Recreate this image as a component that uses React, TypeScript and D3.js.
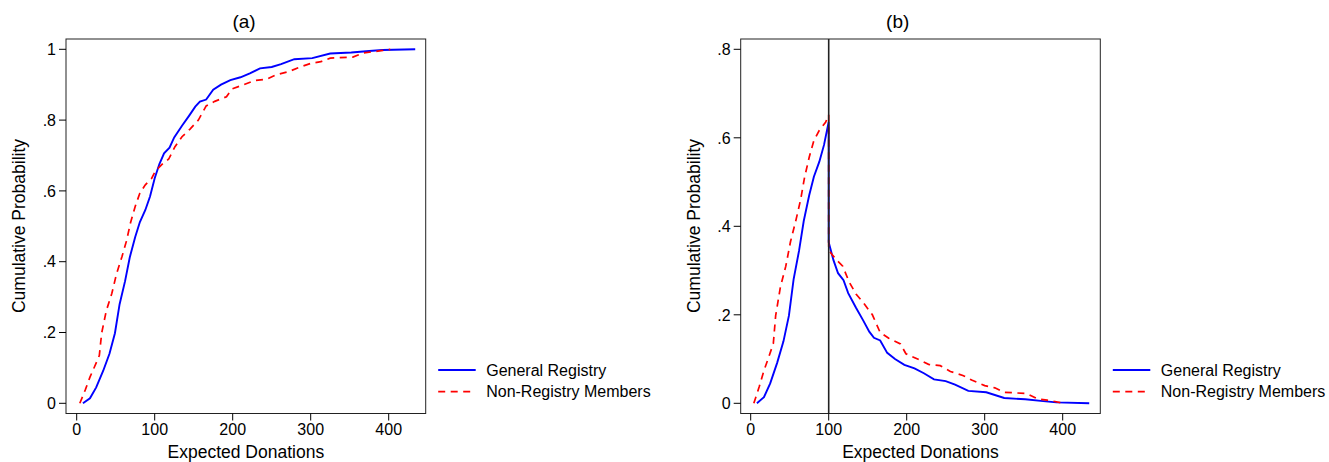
import React from 'react'
import * as d3 from 'd3'

// cumulative distribution of expected donations
const registryX = [8, 17, 25, 34, 42, 49, 55, 62, 68, 75, 81, 88, 94, 100, 106, 112, 119, 125, 135, 144, 152, 158, 166, 175, 185, 197, 210, 222, 235, 250, 262, 279, 302, 325, 352, 375, 392, 434]
const registryP = [0, 0.014, 0.045, 0.092, 0.14, 0.198, 0.28, 0.345, 0.412, 0.47, 0.512, 0.546, 0.584, 0.636, 0.676, 0.706, 0.722, 0.751, 0.784, 0.812, 0.838, 0.852, 0.858, 0.886, 0.9, 0.913, 0.921, 0.932, 0.946, 0.95, 0.958, 0.972, 0.975, 0.988, 0.991, 0.995, 0.998, 1.0]

const nonRegistryX = [4, 11, 17, 23, 29, 32, 38, 45, 51, 58, 64, 69, 75, 81, 88, 96, 100, 103, 110, 118, 126, 135, 145, 156, 166, 177, 192, 199, 214, 228, 243, 256, 272, 284, 300, 313, 325, 354, 368, 380, 390, 402]
const nonRegistryP = [0, 0.038, 0.074, 0.104, 0.135, 0.198, 0.262, 0.31, 0.365, 0.414, 0.46, 0.51, 0.556, 0.594, 0.617, 0.635, 0.652, 0.661, 0.676, 0.69, 0.725, 0.753, 0.774, 0.8, 0.84, 0.853, 0.866, 0.888, 0.9, 0.912, 0.915, 0.928, 0.937, 0.948, 0.96, 0.965, 0.975, 0.978, 0.99, 0.993, 0.996, 1.0]

const foldAt = 100
const xTicks = [0, 100, 200, 300, 400]
const yTicksA = [0, 0.2, 0.4, 0.6, 0.8, 1]
const yTicksB = [0, 0.2, 0.4, 0.6, 0.8]
const seriesNames = ['General Registry', 'Non-Registry Members']

const FONT = '"Liberation Sans", Arial, Helvetica, sans-serif'

type Pt = { x: number; y: number }

const cdf = (xs: number[], ps: number[]): Pt[] => xs.map((x, i) => ({ x, y: ps[i] }))

// folded cdf: F below the cut, 1 - F above it
const folded = (pts: Pt[]): Pt[] =>
  pts.flatMap(p => {
    if (p.x < foldAt) return [p]
    if (p.x === foldAt) return [p, { x: p.x, y: 1 - p.y }]
    return [{ x: p.x, y: 1 - p.y }]
  })

const fmtY = (d: number) => (d === 0 ? '0' : d === 1 ? '1' : d3.format('.1f')(d).replace(/^0/, ''))

function Panel(props: {
  title: string
  titleX: number
  left: number
  right: number
  x0: number
  x400: number
  yMax: number
  yTicks: number[]
  series: Pt[][]
  cutLine?: boolean
  labelX: number
}) {
  const { left, right, x0, x400, yMax, yTicks, series } = props
  const top = 39
  const bottom = 413.5
  const x = d3.scaleLinear().domain([0, 400]).range([x0, x400])
  const y = d3.scaleLinear().domain([0, yMax]).range([403.3, 49.3])
  const line = d3
    .line<Pt>()
    .x(d => x(d.x))
    .y(d => y(d.y))
  const colors = ['#0000ff', '#ff0000']
  const dashes = [undefined, '7,5.5']
  const midX = (left + right) / 2

  return (
    <g fontFamily={FONT} fill="#000">
      <text x={props.titleX} y={28} fontSize={19} textAnchor="middle">
        {props.title}
      </text>
      <rect x={left} y={top} width={right - left} height={bottom - top} fill="none" stroke="#222" strokeWidth={1} />
      {series.map((s, i) => (
        <path key={i} d={line(s) || ''} fill="none" stroke={colors[i]} strokeWidth={i === 0 ? 1.9 : 1.7} strokeDasharray={dashes[i]} />
      ))}
      {props.cutLine && (
        <line x1={x(foldAt)} x2={x(foldAt)} y1={top} y2={bottom} stroke="#222" strokeWidth={1.6} />
      )}
      {/* y axis */}
      {yTicks.map(t => (
        <g key={t}>
          <line x1={left - 7} x2={left} y1={y(t)} y2={y(t)} stroke="#000" />
          <text x={left - 10} y={y(t)} dy="0.36em" fontSize={16} textAnchor="end">
            {fmtY(t)}
          </text>
        </g>
      ))}
      {/* x axis */}
      {xTicks.map(t => (
        <g key={t}>
          <line x1={x(t)} x2={x(t)} y1={bottom} y2={bottom + 7} stroke="#000" />
          <text x={x(t)} y={435} fontSize={16} textAnchor="middle">
            {t}
          </text>
        </g>
      ))}
      <text x={midX} y={458} fontSize={17.5} textAnchor="middle">
        Expected Donations
      </text>
      <text transform={`translate(${props.labelX}, 226) rotate(-90)`} fontSize={17.5} textAnchor="middle">
        Cumulative Probability
      </text>
      {/* legend */}
      {seriesNames.map((n, i) => {
        const ly = 370 + i * 21.7
        return (
          <g key={n}>
            <line x1={right + 12.5} x2={right + 50} y1={ly} y2={ly} stroke={colors[i]} strokeWidth={i === 0 ? 1.9 : 1.7} strokeDasharray={dashes[i]} />
            <text x={right + 60.5} y={ly} dy="0.36em" fontSize={16}>
              {n}
            </text>
          </g>
        )
      })}
    </g>
  )
}

export default function App() {
  const reg = cdf(registryX, registryP)
  const non = cdf(nonRegistryX, nonRegistryP)
  return (
    <svg width={1329} height={462} style={{ position: 'absolute', left: 0, top: 0, background: '#fff' }}>
      <rect width={1329} height={462} fill="#fff" />
      <Panel title="(a)" titleX={244} left={66} right={425.7} x0={76.7} x400={388.7} yMax={1} yTicks={yTicksA} series={[reg, non]} labelX={25} />
      <Panel
        title="(b)"
        titleX={897.7}
        left={740.7}
        right={1100.3}
        x0={750.7}
        x400={1062.7}
        yMax={0.8}
        yTicks={yTicksB}
        series={[folded(reg), folded(non)]}
        cutLine
        labelX={700}
      />
    </svg>
  )
}
